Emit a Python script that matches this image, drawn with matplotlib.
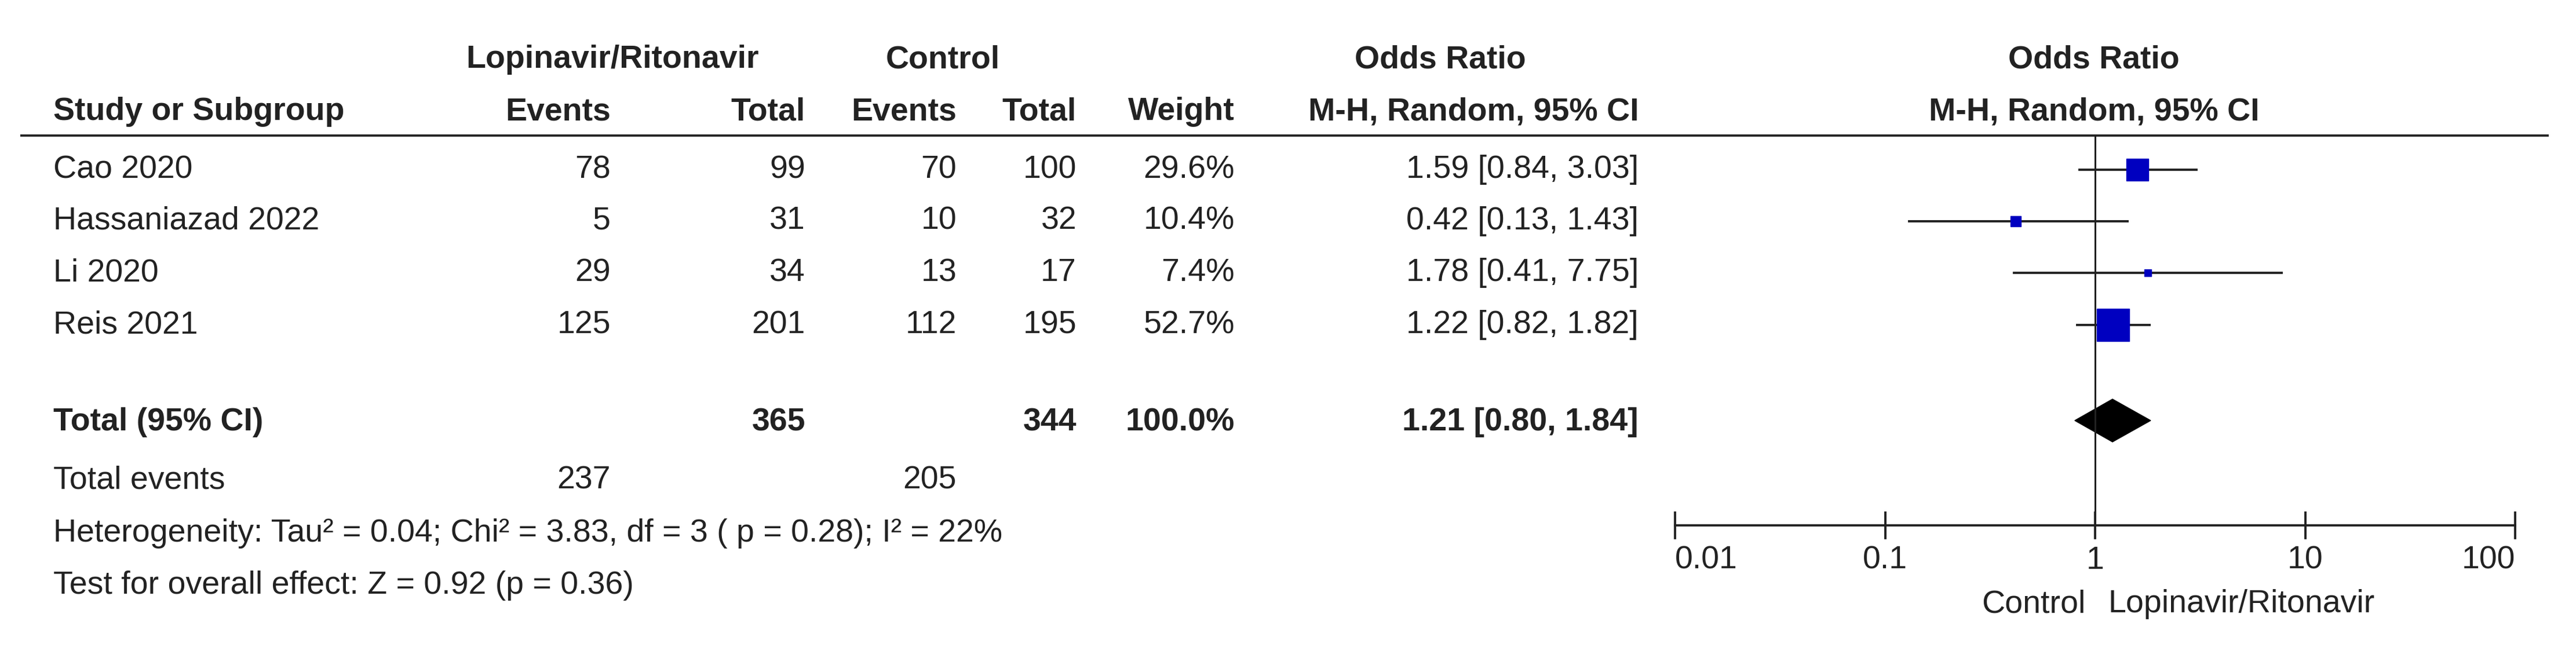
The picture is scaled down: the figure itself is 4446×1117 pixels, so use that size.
import numpy as np
import matplotlib.pyplot as plt
from matplotlib.patches import Polygon

plt.rcParams["font.family"] = ["Liberation Sans", "DejaVu Sans"]

studies = ["Cao 2020", "Hassaniazad 2022", "Li 2020", "Reis 2021"]
trt_events = [78, 5, 29, 125]
trt_total = [99, 31, 34, 201]
ctl_events = [70, 10, 13, 112]
ctl_total = [100, 32, 17, 195]
weights = [29.6, 10.4, 7.4, 52.7]
or_est = [1.59, 0.42, 1.78, 1.22]
or_lo = [0.84, 0.13, 0.41, 0.82]
or_hi = [3.03, 1.43, 7.75, 1.82]
total_or, total_lo, total_hi = 1.21, 0.80, 1.84
sum_trt_total, sum_ctl_total = 365, 344
sum_trt_events, sum_ctl_events = 237, 205
ticks = [0.01, 0.1, 1, 10, 100]
tick_labels = ["0.01", "0.1", "1", "10", "100"]

W, H = 4446, 1117
fig = plt.figure(figsize=(W / 100, H / 100), dpi=100)
ax = fig.add_axes([0, 0, 1, 1])
ax.set_xlim(0, W); ax.set_ylim(H, 0); ax.axis("off")

FS = 40
TC = "#222222"
row_y = [293, 382, 471, 561]

def t(x, y, s, ha="left", bold=False):
    ax.text(x, y, s, ha=ha, va="center", fontsize=FS, color=TC,
            fontweight="bold" if bold else "normal")

# headers
t(1057, 103, "Lopinavir/Ritonavir", "center", True)
t(1627, 103, "Control", "center", True)
t(2486, 103, "Odds Ratio", "center", True)
t(3614, 103, "Odds Ratio", "center", True)
t(92, 193, "Study or Subgroup", bold=True)
for x, s in [(1054, "Events"), (1390, "Total"), (1651, "Events"),
             (1858, "Total"), (2131, "Weight"), (2828, "M-H, Random, 95% CI")]:
    t(x, 193, s, "right", True)
t(3614, 193, "M-H, Random, 95% CI", "center", True)
ax.plot([37, 4397], [234, 234], color=TC, lw=2.8)

for i, y in enumerate(row_y):
    t(92, y, studies[i])
    t(1054, y, str(trt_events[i]), "right")
    t(1390, y, str(trt_total[i]), "right")
    t(1651, y, str(ctl_events[i]), "right")
    t(1858, y, str(ctl_total[i]), "right")
    t(2131, y, f"{weights[i]:.1f}%", "right")
    t(2828, y, f"{or_est[i]:.2f} [{or_lo[i]:.2f}, {or_hi[i]:.2f}]", "right")

t(92, 729, "Total (95% CI)", bold=True)
t(1390, 729, str(sum_trt_total), "right", True)
t(1858, 729, str(sum_ctl_total), "right", True)
t(2131, 729, "100.0%", "right", True)
t(2828, 729, f"{total_or:.2f} [{total_lo:.2f}, {total_hi:.2f}]", "right", True)
t(92, 829, "Total events")
t(1054, 829, str(sum_trt_events), "right")
t(1651, 829, str(sum_ctl_events), "right")
t(92, 921, "Heterogeneity: Tau² = 0.04; Chi² = 3.83, df = 3 ( p = 0.28); I² = 22%")
t(92, 1011, "Test for overall effect: Z = 0.92 (p = 0.36)")

# forest panel
fx0, fx1 = 2891, 4341
fa = fig.add_axes([fx0 / W, 0, (fx1 - fx0) / W, 1])
fa.set_xscale("log"); fa.set_xlim(0.01, 100); fa.set_ylim(H, 0); fa.axis("off")
fa.plot([1, 1], [234, 907], color=TC, lw=2.2)
fa.plot([0.01, 100], [907, 907], color=TC, lw=2.8, clip_on=False)
for tk, lb in zip(ticks, tick_labels):
    fa.plot([tk, tk], [885, 929], color=TC, lw=2.8, clip_on=False)
    fa.text(tk, 968, lb, ha="right" if tk == 100 else ("left" if tk == 0.01 else "center"),
            va="center", fontsize=FS, color=TC)
fa.text(0.9, 1043, "Control", ha="right", va="center", fontsize=FS, color=TC)
fa.text(1.15, 1043, "Lopinavir/Ritonavir", ha="left", va="center", fontsize=FS, color=TC)

sizes = [27, 13, 9, 41]
for i, y in enumerate(row_y):
    fa.plot([or_lo[i], or_hi[i]], [y, y], color=TC, lw=2.8)
    fa.plot(or_est[i], y, marker="s", ms=sizes[i], color="#0000c0", mec="#0000c0")
fa.add_patch(Polygon([(total_lo, 726), (total_or, 689), (total_hi, 726), (total_or, 763)],
                     closed=True, color="black"))

fig.savefig("out.png", dpi=100)
